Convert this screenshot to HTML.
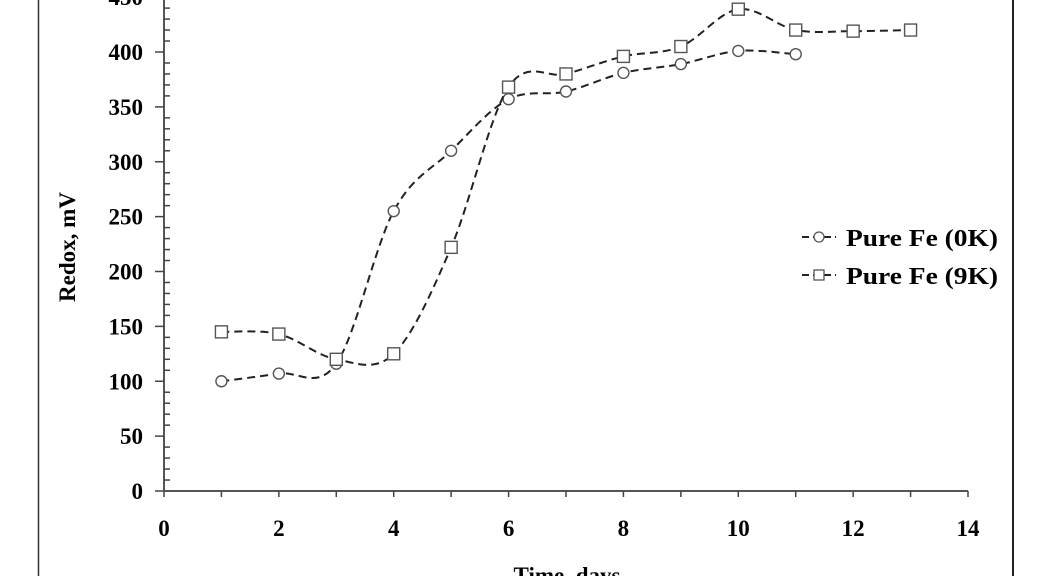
<!DOCTYPE html>
<html><head><meta charset="utf-8"><style>
html,body{margin:0;padding:0;background:#fff;}
svg{display:block;font-family:"Liberation Serif",serif;font-weight:bold;}
</style></head><body>
<svg id="chart" width="1038" height="576" viewBox="0 0 1038 576">
<line x1="38.5" y1="0" x2="38.5" y2="576" stroke="#333" stroke-width="1.5"/>
<line x1="1013" y1="0" x2="1013" y2="576" stroke="#222" stroke-width="2"/>
<g id="axes"></g>
<g id="series"></g>
<text x="75" y="247" font-size="23" text-anchor="middle" transform="rotate(-90 75 247)">Redox, mV</text>
<text x="567" y="583" font-size="23" text-anchor="middle">Time, days</text>
<g>
<g>
<line x1="802" y1="237" x2="836" y2="237" stroke="#222" stroke-width="2" stroke-dasharray="7,4"/>
<circle cx="819" cy="237" r="5" fill="#fff" stroke="#555" stroke-width="1.3"/>
<text x="846" y="246" font-size="24" textLength="152" lengthAdjust="spacingAndGlyphs">Pure Fe (0K)</text>
</g>
<g>
<line x1="802" y1="275" x2="836" y2="275" stroke="#222" stroke-width="2" stroke-dasharray="7,4"/>
<rect x="814" y="270" width="10" height="10" fill="#fff" stroke="#555" stroke-width="1.3"/>
<text x="846" y="284" font-size="24" textLength="152" lengthAdjust="spacingAndGlyphs">Pure Fe (9K)</text>
</g>
</g>
</svg>
<script>
const days0K = [1,2,3,4,5,6,7,8,9,10,11];
const redox0K = [100,107,116,255,310,357,364,381,389,401,398];
const days9K = [1,2,3,4,5,6,7,8,9,10,11,12,13];
const redox9K = [145,143,120,125,222,368,380,396,405,439,420,419,420];
const xTicks = [0,2,4,6,8,10,12,14];
const yTicks = [0,50,100,150,200,250,300,350,400,450];

const NS="http://www.w3.org/2000/svg";
const X=v=>164+v*(968-164)/14;
const Y=v=>491-v*(491-52)/400;
function mk(tag,attrs,parent){const e=document.createElementNS(NS,tag);for(const k in attrs)e.setAttribute(k,attrs[k]);parent.appendChild(e);return e;}
const ax=document.getElementById('axes');
const yl=mk('line',{x1:X(0),y1:Y(0),x2:X(0),y2:0,stroke:'#555','stroke-width':2},ax);


const xl=mk('line',{x1:X(0),y1:Y(0),x2:X(14),y2:Y(0),stroke:'#555','stroke-width':2},ax);


for(let v=0;v<=450;v+=10){const y=Y(v);const major=v%50===0;mk('line',{x1:X(0)-(major?9:0),y1:y,x2:X(0)+(major?0:6),y2:y,stroke:'#444','stroke-width':1.5},ax);}
for(let v=0;v<=14;v++){mk('line',{x1:X(v),y1:Y(0),x2:X(v),y2:Y(0)+6,stroke:'#444','stroke-width':1.5},ax);}
yTicks.forEach(v=>{const t=mk('text',{x:X(0)-21,y:Y(v)+8,'font-size':23,'text-anchor':'end'},ax);t.textContent=v;

});
xTicks.forEach(v=>{const t=mk('text',{x:X(v),y:Y(0)+45,'font-size':23,'text-anchor':'middle'},ax);t.textContent=v;

});
function smooth(p){let d=`M${p[0][0]},${p[0][1]}`;for(let i=0;i<p.length-1;i++){const p0=p[i-1]||p[i],p1=p[i],p2=p[i+1],p3=p[i+2]||p2;const t=6;
d+=` C${p1[0]+(p2[0]-p0[0])/t},${p1[1]+(p2[1]-p0[1])/t} ${p2[0]-(p3[0]-p1[0])/t},${p2[1]-(p3[1]-p1[1])/t} ${p2[0]},${p2[1]}`;}return d;}
const sg=document.getElementById('series');
function series(xs,ys,shape,name){
 const pts=xs.map((x,i)=>[X(x),Y(ys[i])]);
 const path=mk('path',{d:smooth(pts),fill:'none',stroke:'#222','stroke-width':2,'stroke-dasharray':'8,5'},sg);
 
 
 pts.forEach(p=>{let m;
  if(shape==='c')m=mk('circle',{cx:p[0],cy:p[1],r:5.5,fill:'#fff',stroke:'#555','stroke-width':1.4},sg);
  else m=mk('rect',{x:p[0]-6,y:p[1]-6,width:12,height:12,fill:'#fff',stroke:'#555','stroke-width':1.4},sg);
  
  });
}
series(days0K,redox0K,'c','pure-fe-0k');
series(days9K,redox9K,'s','pure-fe-9k');
</script>
</body></html>
